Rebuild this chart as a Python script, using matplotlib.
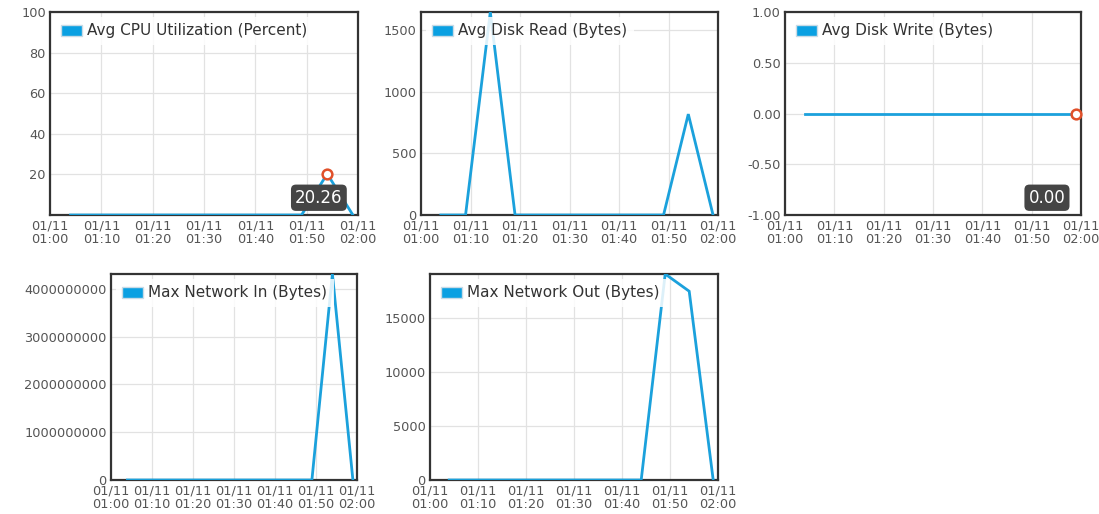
import matplotlib
matplotlib.use("Agg")
import matplotlib.pyplot as plt
from matplotlib.patches import Patch
from matplotlib.ticker import FuncFormatter

# sample times, minutes after 01:00
minutes = [4, 9, 14, 19, 24, 29, 34, 39, 44, 49, 54, 59]
tick_minutes = [0, 10, 20, 30, 40, 50, 60]
tick_labels = ["01/11\n01:00", "01/11\n01:10", "01/11\n01:20", "01/11\n01:30",
               "01/11\n01:40", "01/11\n01:50", "01/11\n02:00"]

cpu = [0, 0, 0, 0, 0, 0, 0, 0, 0, 0, 20.26, 0]
disk_read = [0, 0, 1650, 0, 0, 0, 0, 0, 0, 0, 820, 0]
disk_write = [0, 0, 0, 0, 0, 0, 0, 0, 0, 0, 0, 0]
net_in = [0, 0, 0, 0, 0, 0, 0, 0, 0, 0, 4.31e9, 0]
net_out = [0, 0, 0, 0, 0, 0, 0, 0, 0, 19100, 17500, 0]

LINE = "#1ba1dc"
W, H = 1099, 514

fig = plt.figure(figsize=(W / 100, H / 100), dpi=100)


def make_ax(l, t, r, b):
    return fig.add_axes([l / W, 1 - b / H, (r - l) / W, (b - t) / H])


def style(ax, ys, label, ylim, yticks, fmt):
    ax.plot(minutes, ys, color=LINE, lw=2.0, solid_joinstyle="miter", zorder=3)
    ax.set_xlim(0, 60)
    ax.set_ylim(*ylim)
    ax.set_xticks(tick_minutes)
    ax.set_xticklabels(tick_labels, linespacing=1.05)
    ax.set_yticks(yticks)
    ax.yaxis.set_major_formatter(FuncFormatter(fmt))
    ax.grid(True, color="#e2e2e2", lw=0.9)
    ax.set_axisbelow(True)
    ax.tick_params(length=0, labelsize=9.3, labelcolor="#555555", pad=3)
    for s in ax.spines.values():
        s.set_color("#333333")
        s.set_linewidth(1.6)
    h = Patch(facecolor="#0aa0e2", edgecolor="#c8dbe6", lw=1)
    leg = ax.legend([h], [label], loc="upper left", fontsize=11, frameon=True,
                    handlelength=1.35, handleheight=0.75, handletextpad=0.35,
                    borderaxespad=0.3, borderpad=0.45, fancybox=False)
    leg.get_frame().set_facecolor("white")
    leg.get_frame().set_edgecolor("none")
    leg.get_frame().set_alpha(0.85)
    for t in leg.get_texts():
        t.set_color("#333333")
    leg.set_zorder(4)


def tooltip(ax, i, ys, xf):
    ax.plot(minutes[i], ys[i], "o", ms=7, mfc="white", mec="#e0502a", mew=1.8,
            zorder=6, clip_on=False)
    ax.text(xf, 0.085, f"{ys[i]:.2f}", transform=ax.transAxes, ha="center",
            va="center", color="white", fontsize=12, zorder=7,
            bbox=dict(boxstyle="round,pad=0.25,rounding_size=0.3",
                      fc="#454545", ec="none"))


int_fmt = lambda v, p: f"{int(round(v))}"

ax1 = make_ax(50, 12, 358, 215)
style(ax1, cpu, "Avg CPU Utilization (Percent)", (0, 100), [20, 40, 60, 80, 100], int_fmt)
ax1.set_yticks([0, 20, 40, 60, 80, 100])
ax1.yaxis.set_major_formatter(FuncFormatter(lambda v, p: "" if v == 0 else f"{int(v)}"))
tooltip(ax1, 10, cpu, 0.873)

ax2 = make_ax(421, 12, 718, 215)
style(ax2, disk_read, "Avg Disk Read (Bytes)", (0, 1650), [0, 500, 1000, 1500], int_fmt)

ax3 = make_ax(785, 12, 1081, 215)
style(ax3, disk_write, "Avg Disk Write (Bytes)", (-1, 1), [-1, -0.5, 0, 0.5, 1],
      lambda v, p: f"{v:.2f}")
tooltip(ax3, 11, disk_write, 0.885)

ax4 = make_ax(111, 274, 357, 480)
style(ax4, net_in, "Max Network In (Bytes)", (0, 4.31e9),
      [0, 1e9, 2e9, 3e9, 4e9], int_fmt)

ax5 = make_ax(430, 274, 718, 480)
style(ax5, net_out, "Max Network Out (Bytes)", (0, 19100),
      [0, 5000, 10000, 15000], int_fmt)

fig.savefig("out.png", dpi=100)
